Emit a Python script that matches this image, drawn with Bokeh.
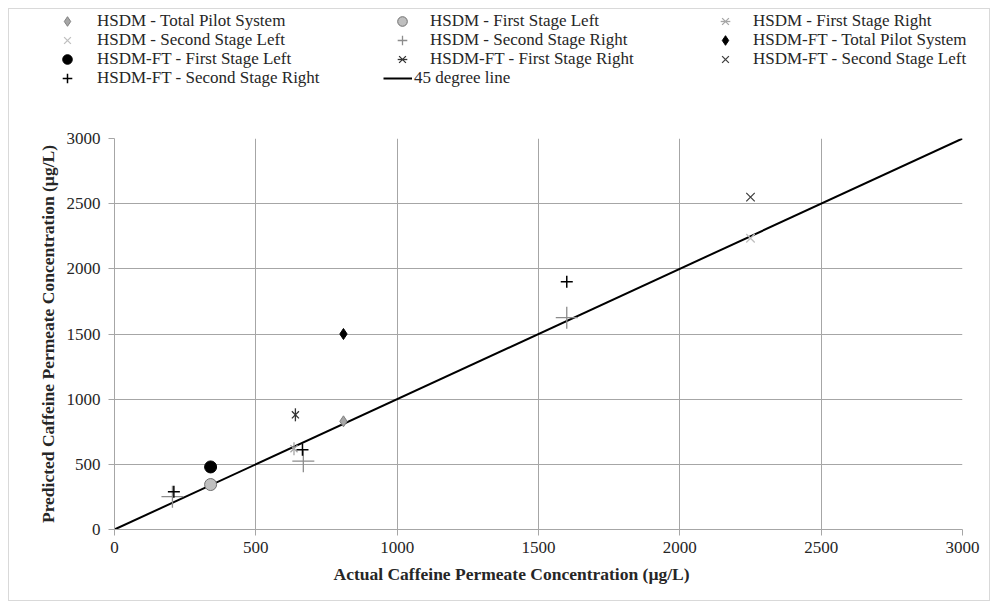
import numpy as np
from bokeh.plotting import figure
from bokeh.layouts import column
from bokeh.models import Legend, LegendItem, Range1d, FixedTicker, Title
from bokeh.embed import file_html
from bokeh.resources import INLINE

# ---------------- data ----------------
ticks = [0, 500, 1000, 1500, 2000, 2500, 3000]

hsdm_total_x, hsdm_total_y = [810], [830]
hsdm_fsl_x, hsdm_fsl_y = [340], [345]
hsdm_fsr_x, hsdm_fsr_y = [635], [620]
hsdm_ssl_x, hsdm_ssl_y = [2250], [2235]
hsdm_ssr_x, hsdm_ssr_y = [205, 668, 1600], [252, 524, 1625]

ft_total_x, ft_total_y = [810], [1500]
ft_fsl_x, ft_fsl_y = [340], [480]
ft_fsr_x, ft_fsr_y = [640], [880]
ft_ssl_x, ft_ssl_y = [2250], [2550]
ft_ssr_x, ft_ssr_y = [210, 665, 1600], [290, 611, 1900]

line_x, line_y = [0, 3000], [0, 3000]

labels = [
    "HSDM - Total Pilot System", "HSDM - First Stage Left", "HSDM - First Stage Right",
    "HSDM - Second Stage Left", "HSDM - Second Stage Right", "HSDM-FT - Total Pilot System",
    "HSDM-FT - First Stage Left", "HSDM-FT - First Stage Right", "HSDM-FT - Second Stage Left",
    "HSDM-FT - Second Stage Right", "45 degree line",
]

FONT = "Liberation Serif"
GRID = "#a6a6a6"
TXT = "#262626"

# marker styles
ST = {
    "hsdm_total": dict(marker="diamond", fill_color="#a6a6a6", line_color="#7f7f7f"),
    "hsdm_fsl": dict(marker="circle", fill_color="#bfbfbf", line_color="#6f6f6f"),
    "hsdm_fsr_x": dict(marker="x", line_color="#a6a6a6", line_width=1.3),
    "hsdm_fsr_d": dict(marker="dash", angle=np.pi / 2, line_color="#a6a6a6", line_width=1.3),
    "hsdm_ssl": dict(marker="x", line_color="#bfbfbf", line_width=1.3),
    "hsdm_ssr": dict(marker="cross", line_color="#8c8c8c", line_width=1.3),
    "ft_total": dict(marker="diamond", fill_color="black", line_color="black"),
    "ft_fsl": dict(marker="circle", fill_color="black", line_color="black"),
    "ft_fsr_x": dict(marker="x", line_color="#333333", line_width=1.3),
    "ft_fsr_d": dict(marker="dash", angle=np.pi / 2, line_color="#333333", line_width=1.3),
    "ft_ssl": dict(marker="x", line_color="#404040", line_width=1.3),
    "ft_ssr": dict(marker="cross", line_color="black", line_width=1.5),
}
SIZES = {"hsdm_total": 11, "hsdm_fsl": 12, "hsdm_fsr_x": 10, "hsdm_fsr_d": 13, "hsdm_ssl": 12,
         "hsdm_ssr": 22, "ft_total": 11, "ft_fsl": 12, "ft_fsr_x": 10, "ft_fsr_d": 13,
         "ft_ssl": 12, "ft_ssr": 12}

OX, OY = 9, 9          # page position of the layout content (8px margin + 1px border)
LEG_H = 100

# ---------------- main plot ----------------
p = figure(frame_width=848, frame_height=391, x_range=Range1d(0, 3000), y_range=Range1d(0, 3000),
           output_backend="svg", toolbar_location=None,
           min_border_left=114 - OX, min_border_right=27, min_border_top=138 - OY - LEG_H,
           min_border_bottom=71)
p.outline_line_color = None

for ax in (p.xaxis, p.yaxis):
    ax.ticker = FixedTicker(ticks=ticks)
    ax.axis_line_color = GRID
    ax.major_tick_line_color = GRID
    ax.major_tick_out = 6
    ax.major_tick_in = 0
    ax.minor_tick_line_color = None
    ax.major_label_text_font = FONT
    ax.major_label_text_font_size = "17px"
    ax.major_label_text_color = TXT
p.xaxis.major_label_standoff = 6
p.yaxis.major_label_standoff = 8

p.yaxis.axis_label = "Predicted Caffeine Permeate Concentration (µg/L)"
p.yaxis.axis_label_text_font = FONT
p.yaxis.axis_label_text_font_style = "bold"
p.yaxis.axis_label_text_font_size = "17.5px"
p.yaxis.axis_label_text_color = TXT
p.yaxis.axis_label_standoff = 6

xt = Title(text="Actual Caffeine Permeate Concentration (µg/L)", align="left", offset=333 - 114,
           text_font=FONT, text_font_style="bold", text_font_size="17.5px",
           text_color=TXT, standoff=13)
p.add_layout(xt, "below")

p.xgrid.ticker = FixedTicker(ticks=ticks)
p.ygrid.ticker = FixedTicker(ticks=ticks)
p.grid.grid_line_color = GRID
p.grid.grid_line_width = 1

p.line(line_x, line_y, line_color="black", line_width=2)

series = [
    ("hsdm_total", hsdm_total_x, hsdm_total_y),
    ("hsdm_fsl", hsdm_fsl_x, hsdm_fsl_y),
    ("hsdm_fsr_x", hsdm_fsr_x, hsdm_fsr_y),
    ("hsdm_fsr_d", hsdm_fsr_x, hsdm_fsr_y),
    ("hsdm_ssl", hsdm_ssl_x, hsdm_ssl_y),
    ("hsdm_ssr", hsdm_ssr_x, hsdm_ssr_y),
    ("ft_total", ft_total_x, ft_total_y),
    ("ft_fsl", ft_fsl_x, ft_fsl_y),
    ("ft_fsr_x", ft_fsr_x, ft_fsr_y),
    ("ft_fsr_d", ft_fsr_x, ft_fsr_y),
    ("ft_ssl", ft_ssl_x, ft_ssl_y),
    ("ft_ssr", ft_ssr_x, ft_ssr_y),
]
for key, xs, ys in series:
    p.scatter(xs, ys, size=SIZES[key], **ST[key])

# ---------------- legend strip (separate figure above the plot) ----------------
lg = figure(width=980, height=LEG_H, x_range=Range1d(0, 1), y_range=Range1d(0, 1),
            output_backend="svg", toolbar_location=None, min_border=0)
lg.axis.visible = False
lg.grid.visible = False
lg.outline_line_color = None

for fig in (p, lg):
    try:
        fig.frame_align = False
    except Exception:
        pass

# legend sample glyphs (NaN positions: they only show inside the legend)
nan = np.array([np.nan])
proxy = {key: lg.scatter(nan, nan, size=10, **ST[key]) for key in ST}
proxy_line = lg.line(nan, nan, line_color="black", line_width=2)

ROWS = [21, 40, 59, 78]


def single_legend(label, renderers, marker_x, text_x, row, glyph_w=24, left=None):
    lft = marker_x - glyph_w / 2 if left is None else left
    standoff = text_x - (lft + glyph_w)
    yc = ROWS[row]
    leg = Legend(items=[LegendItem(label=label, renderers=renderers)],
                 location=(lft - OX, (OY + LEG_H) - (yc + 12)),
                 orientation="vertical", glyph_width=glyph_w, glyph_height=24,
                 label_height=24, spacing=0, padding=0, margin=0,
                 label_standoff=int(round(standoff)), border_line_color=None,
                 background_fill_alpha=0, label_text_font=FONT,
                 label_text_font_size="17px", label_text_color=TXT)
    lg.add_layout(leg, "center")


C1, C2, C3 = (67, 97), (402, 430), (725, 753)
single_legend(labels[0], [proxy["hsdm_total"]], *C1, 0)
single_legend(labels[1], [proxy["hsdm_fsl"]], *C2, 0)
single_legend(labels[2], [proxy["hsdm_fsr_x"], proxy["hsdm_fsr_d"]], *C3, 0)
single_legend(labels[3], [proxy["hsdm_ssl"]], *C1, 1)
single_legend(labels[4], [proxy["hsdm_ssr"]], *C2, 1)
single_legend(labels[5], [proxy["ft_total"]], *C3, 1)
single_legend(labels[6], [proxy["ft_fsl"]], *C1, 2)
single_legend(labels[7], [proxy["ft_fsr_x"], proxy["ft_fsr_d"]], *C2, 2)
single_legend(labels[8], [proxy["ft_ssl"]], *C3, 2)
single_legend(labels[9], [proxy["ft_ssr"]], *C1, 3)
single_legend(labels[10], [proxy_line], 0, 414, 3, glyph_w=29, left=383)

layout = column(lg, p, spacing=0, margin=(8, 0, 0, 8),
                styles={"border": "1px solid #d9d9d9"})

open("out.html", "w").write(file_html(layout, INLINE))
